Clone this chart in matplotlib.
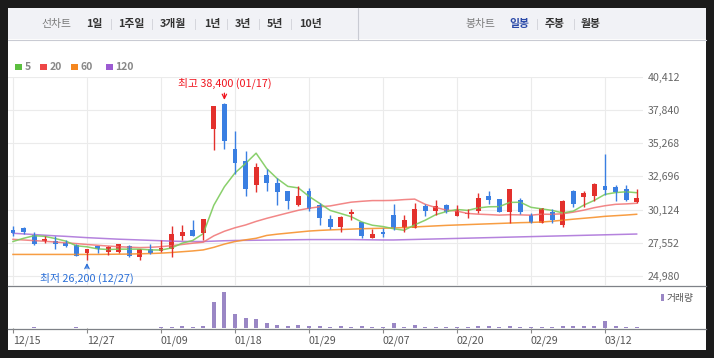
import numpy as np
import pandas as pd
import matplotlib
matplotlib.use('Agg')
import matplotlib.pyplot as plt
from matplotlib.patches import Rectangle

plt.rcParams['font.family'] = ['Noto Sans CJK KR', 'DejaVu Sans']

# 거래일 (2023-12-15 ~ 2024-03-15)
dates = ['12/15', '12/18', '12/19', '12/20', '12/21', '12/22', '12/26', '12/27', '12/28',
         '01/02', '01/03', '01/04', '01/05', '01/08', '01/09', '01/10', '01/11', '01/12',
         '01/15', '01/16', '01/17', '01/18', '01/19', '01/22', '01/23', '01/24', '01/25',
         '01/26', '01/29', '01/30', '01/31', '02/01', '02/02', '02/05', '02/06', '02/07',
         '02/08', '02/13', '02/14', '02/15', '02/16', '02/19', '02/20', '02/21', '02/22',
         '02/23', '02/26', '02/27', '02/28', '02/29', '03/04', '03/05', '03/06', '03/07',
         '03/08', '03/11', '03/12', '03/13', '03/14', '03/15']

opens = [28550, 28700, 28150, 27700, 27700, 27550, 27400, 26750, 27300, 26800,
         26800, 27300, 26450, 27050, 26900, 27100, 28100, 28550, 28300, 36350,
         38300, 34850, 33900, 32050, 32800, 32200, 31550, 30500, 31550, 30500,
         29400, 28800, 29750, 29150, 27950, 28350, 29700, 28700, 28700, 30400,
         30050, 30500, 29650, 29750, 30000, 31150, 30950, 29900, 30850, 29700,
         29100, 29950, 28950, 31550, 31100, 31200, 31950, 31850, 31750, 30700]
highs = [28850, 28750, 28400, 28100, 28100, 27750, 27450, 27100, 27300, 27300,
         27450, 27400, 27100, 27450, 27800, 28850, 28950, 29350, 29400, 38150,
         38400, 36200, 34650, 33750, 33250, 32550, 31550, 31950, 31800, 30600,
         29700, 29650, 30150, 29150, 28650, 28700, 30550, 29700, 30600, 30550,
         30900, 30550, 30500, 30200, 31400, 31550, 30950, 31750, 31050, 29850,
         30250, 30150, 30900, 31650, 31550, 32200, 34450, 32000, 32000, 31750]
lows = [28100, 28200, 27400, 27550, 27100, 27250, 26550, 26200, 26750, 26600,
        26750, 26450, 26250, 26700, 26800, 26450, 27750, 28050, 27750, 34750,
        34800, 32850, 31150, 31450, 31600, 30500, 30150, 30400, 30000, 28950,
        28600, 28400, 29350, 27950, 27950, 28000, 28550, 28350, 28700, 29600,
        29700, 29850, 29650, 29500, 29850, 30550, 29950, 29100, 29800, 29050,
        29100, 29050, 28800, 30350, 30350, 30750, 31250, 30750, 30800, 30600]
closes = [28300, 28350, 27450, 27850, 27450, 27300, 26550, 27050, 27050, 27200,
          27450, 26550, 27050, 26750, 27150, 28250, 28400, 28100, 29400, 38150,
          35400, 33750, 31750, 33400, 32200, 31500, 30750, 31150, 30150, 29500,
          28750, 29550, 29900, 28100, 28250, 28250, 28700, 29300, 30200, 30050,
          30400, 29900, 30100, 29850, 31000, 30850, 29950, 31750, 29900, 29050,
          30250, 29350, 30800, 30550, 31400, 32100, 31650, 31500, 30850, 31050]
# 거래량 (천주)
volume = [20, 20, 60, 20, 20, 20, 60, 20, 20, 20,
          20, 20, 20, 20, 60, 60, 100, 60, 100, 1200,
          1650, 650, 460, 420, 240, 150, 100, 150, 100, 100,
          60, 100, 60, 100, 60, 60, 250, 60, 150, 60,
          60, 60, 60, 60, 120, 100, 60, 100, 60, 60,
          60, 60, 100, 100, 100, 100, 330, 100, 60, 60]

# 이동평균 - 조회기간 이전 데이터가 필요한 앞부분은 차트에서 읽은 값
ma5_head = [27650, 27900, 28100, 28050]
ma20_head = [27820, 27770, 27720, 27670, 27610, 27550, 27490, 27420, 27360, 27300,
             27250, 27210, 27180, 27200, 27250, 27330, 27420, 27520, 27600]
ma60 = [26650, 26650, 26650, 26650, 26650, 26650, 26650, 26650, 26650, 26660,
        26670, 26680, 26700, 26720, 26750, 26800, 26860, 26920, 27000, 27200,
        27450, 27650, 27780, 27900, 28120, 28220, 28300, 28380, 28460, 28510,
        28550, 28580, 28610, 28640, 28660, 28680, 28700, 28730, 28780, 28820,
        28860, 28900, 28930, 28960, 28990, 29020, 29050, 29080, 29110, 29130,
        29160, 29220, 29300, 29380, 29450, 29520, 29600, 29650, 29700, 29760]
ma120 = [28290, 28240, 28190, 28140, 28090, 28050, 28000, 27950, 27910, 27870,
         27830, 27800, 27770, 27740, 27710, 27680, 27660, 27650, 27650, 27680,
         27710, 27730, 27740, 27750, 27760, 27770, 27780, 27790, 27800, 27800,
         27800, 27800, 27800, 27790, 27780, 27770, 27770, 27790, 27810, 27830,
         27850, 27870, 27890, 27910, 27930, 27950, 27970, 27990, 28010, 28030,
         28050, 28070, 28090, 28110, 28130, 28150, 28170, 28190, 28210, 28230]

yticks = [24980, 27552, 30124, 32696, 35268, 37840, 40412]
tick_idx = [0, 7, 14, 21, 28, 35, 42, 49, 56]

RED = '#e3302c'
BLUE = '#3a7fe2'

df = pd.DataFrame({'open': opens, 'high': highs, 'low': lows, 'close': closes, 'vol': volume})
idx = np.arange(len(df))
ma5 = df['close'].rolling(5).mean().to_numpy()
ma5[:4] = ma5_head
ma20 = df['close'].rolling(20).mean().to_numpy()
ma20[:19] = ma20_head

W, H = 714, 358
fig = plt.figure(figsize=(W / 100, H / 100), dpi=100, facecolor='#1b1b1b')

# 배경 (픽셀 좌표)
bg = fig.add_axes([0, 0, 1, 1])
bg.set_xlim(0, W)
bg.set_ylim(H, 0)
bg.axis('off')
bg.set_zorder(0)
bg.add_patch(Rectangle((8, 8), 698, 342, color='white', lw=0))
bg.add_patch(Rectangle((8, 8), 698, 31, color='#f1f2f6', lw=0))
bg.plot([8, 706], [39.5, 39.5], color='#c9cbd3', lw=0.8)
bg.plot([358, 358], [8, 39], color='#c9cbd3', lw=0.8)

# 상단 메뉴
menu_left = [('선차트', 56, '#7a7a7a', 'normal'), ('1일', 94, '#333333', 'bold'),
             ('1주일', 131, '#333333', 'bold'), ('3개월', 173, '#333333', 'bold'),
             ('1년', 212, '#333333', 'bold'), ('3년', 243, '#333333', 'bold'),
             ('5년', 275, '#333333', 'bold'), ('10년', 310, '#333333', 'bold'),
             ('봉차트', 480, '#7a7a7a', 'normal'), ('일봉', 519, '#2b4aa8', 'bold'),
             ('주봉', 555, '#333333', 'bold'), ('월봉', 591, '#333333', 'bold')]
for txt, x, c, w in menu_left:
    bg.text(x, 24, txt, ha='center', va='center', fontsize=7.8, color=c, fontweight=w)
for x in [111, 152, 195, 227, 259, 291, 537, 574]:
    bg.plot([x, x], [19, 29], color='#d5d6dc', lw=0.7)

# 이평선 범례
legend_items = [('5', 15, '#5cbf3f'), ('20', 40, '#ee4646'), ('60', 71, '#f5871f'), ('120', 106, '#9c5bd2')]
for lab, x, c in legend_items:
    bg.add_patch(Rectangle((x, 63.5), 6.5, 6.5, color=c, lw=0))
    bg.text(x + 9.5, 67, lab, ha='left', va='center', fontsize=7.5, color='#888888', fontweight='bold')

# 구분선
bg.plot([8, 706], [286, 286], color='#7e8187', lw=0.9)
bg.plot([8, 706], [328.5, 328.5], color='#7e8187', lw=0.9)

# 거래량 범례
bg.add_patch(Rectangle((661, 294), 2.8, 7, color='#9a87c5', lw=0))
bg.text(667, 297.5, '거래량', ha='left', va='center', fontsize=7, color='#555555')

# 가격 차트
ax = fig.add_axes([8 / W, (H - 285.7) / H, 635 / W, 209 / H])
ax.set_zorder(1)
ax.set_facecolor('none')
ax.set_xlim(-0.47, 59.6)
ax.set_ylim(24229, 40412)

ax.plot(idx, ma120, color='#a86dd8', lw=1.1, alpha=0.85)
ax.plot(idx, ma60, color='#f7922e', lw=1.1, alpha=0.9)
ax.plot(idx, ma20, color='#f07272', lw=1.1, alpha=0.85)
ax.plot(idx, ma5, color='#7dcb5c', lw=1.1, alpha=0.9)

up = df['close'] >= df['open']
colors = np.where(up, RED, BLUE)
ax.vlines(idx, df['low'], df['high'], colors=colors, lw=1)
body = np.maximum((df['close'] - df['open']).abs(), 70)
ax.bar(idx, body, bottom=np.minimum(df['open'], df['close']), width=0.46, color=colors, lw=0)

ax.set_xticks(tick_idx)
ax.set_yticks(yticks)
ax.set_yticklabels([f'{v:,}' for v in yticks])
ax.yaxis.tick_right()
ax.tick_params(axis='x', length=0, labelbottom=False)
ax.tick_params(axis='y', length=0, pad=3.6, labelsize=7.6, labelcolor='#666666')
ax.grid(True, color='#ebebeb', lw=0.8)
ax.set_axisbelow(True)
for s in ax.spines.values():
    s.set_visible(False)

# 최고/최저 표시
hi = int(np.argmax(highs))
lo = int(np.argmin(lows))
ax.annotate(f'최고 {highs[hi]:,} ({dates[hi]})', xy=(hi, highs[hi]), xytext=(0, 14),
            textcoords='offset points', ha='center', va='center', fontsize=7.8, color='#f0141e',
            arrowprops=dict(arrowstyle='->', color='#f0141e', lw=0.9, shrinkA=1, shrinkB=2))
ax.annotate(f'최저 {lows[lo]:,} ({dates[lo]})', xy=(lo, lows[lo]), xytext=(0, -13),
            textcoords='offset points', ha='center', va='center', fontsize=7.8, color='#2a6fd8',
            arrowprops=dict(arrowstyle='->', color='#2a6fd8', lw=0.9, shrinkA=1, shrinkB=2))

# 거래량 차트
vax = fig.add_axes([8 / W, (H - 328.3) / H, 635 / W, 42.3 / H])
vax.set_zorder(1)
vax.set_facecolor('none')
vax.set_xlim(-0.47, 59.6)
vax.set_ylim(0, 1907)
vax.bar(idx, df['vol'], width=0.38, color='#9a87c5', lw=0)
vax.set_yticks([])
vax.set_xticks(tick_idx)
vax.set_xticklabels([dates[i] for i in tick_idx])
vax.tick_params(axis='x', length=3.6, width=0.8, color='#888888', pad=1.5,
                labelsize=7.6, labelcolor='#555555')
for lbl in vax.get_xticklabels():
    lbl.set_horizontalalignment('left')
for s in vax.spines.values():
    s.set_visible(False)

fig.savefig('out.png', dpi=100, facecolor=fig.get_facecolor())
